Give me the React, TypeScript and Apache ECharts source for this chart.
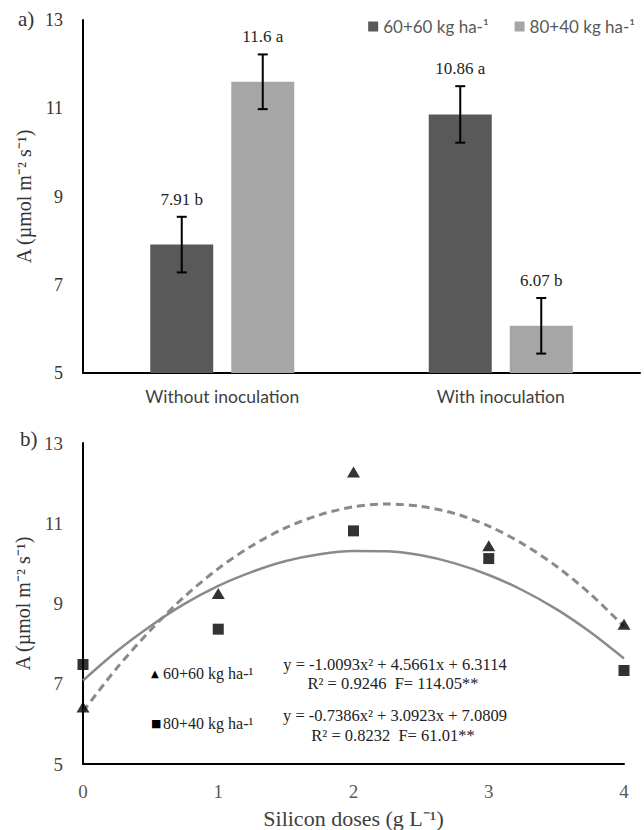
import React, { useEffect, useRef } from "react";
import * as echarts from "echarts";

const treatments = ["60+60 kg ha-¹", "80+40 kg ha-¹"];
const inoculation = ["Without inoculation", "With inoculation"];
const barDark = [7.91, 10.86];
const barLight = [11.6, 6.07];
const errDark = [0.63, 0.64];
const errLight = [0.62, 0.63];
const lettersDark = ["b", "a"];
const lettersLight = ["a", "b"];

const siDoses = [0, 1, 2, 3, 4];
const obs6060 = [6.42, 9.25, 12.28, 10.44, 8.48];
const obs8040 = [7.48, 8.36, 10.81, 10.12, 7.33];
const curveX = [0, 0.25, 0.5, 0.75, 1, 1.25, 1.5, 1.75, 2, 2.25, 2.5, 2.75, 3, 3.25, 3.5, 3.75, 4];
const fit6060 = [6.31, 7.39, 8.34, 9.17, 9.87, 10.44, 10.89, 11.21, 11.41, 11.48, 11.42, 11.24, 10.93, 10.49, 9.93, 9.24, 8.43];
const fit8040 = [7.08, 7.81, 8.44, 8.99, 9.44, 9.79, 10.06, 10.23, 10.31, 10.3, 10.2, 10.0, 9.71, 9.33, 8.86, 8.29, 7.63];
const eq6060 = ["y = -1.0093x² + 4.5661x + 6.3114", "R² = 0.9246  F= 114.05**"];
const eq8040 = ["y = -0.7386x² + 3.0923x + 7.0809", "R² = 0.8232  F= 61.01**"];

const yName = "A (µmol m⁻² s⁻¹)";
const xName = "Silicon doses (g L⁻¹)";

const SERIF = "'Liberation Serif', 'Times New Roman', serif";
const SANS = "Lato, 'Open Sans', sans-serif";

function errorSeries(vals: number[], errs: number[], letters: string[], offset: number) {
  return {
    type: "custom",
    xAxisIndex: 0,
    yAxisIndex: 0,
    z: 5,
    data: vals.map((v, i) => [i, v, errs[i], letters[i]]),
    renderItem: (params: any, api: any) => {
      const idx = api.value(0);
      const v = api.value(1);
      const e = api.value(2);
      const top = api.coord([idx, v + e]);
      const bot = api.coord([idx, v - e]);
      const x = top[0] + offset;
      const cap = 5;
      const st = { stroke: "#000", lineWidth: 2 };
      return {
        type: "group",
        children: [
          { type: "line", shape: { x1: x, y1: top[1], x2: x, y2: bot[1] }, style: st },
          { type: "line", shape: { x1: x - cap, y1: top[1], x2: x + cap, y2: top[1] }, style: st },
          { type: "line", shape: { x1: x - cap, y1: bot[1], x2: x + cap, y2: bot[1] }, style: st },
          {
            type: "text",
            x: x,
            y: top[1] - 9,
            style: {
              text: v.toString() + " " + letters[idx],
              fontFamily: SERIF,
              fontSize: 17,
              fill: "#222",
              align: "center",
              verticalAlign: "bottom",
            },
          },
        ],
      };
    },
  };
}

export default function App() {
  const ref = useRef<HTMLDivElement>(null);
  useEffect(() => {
    document.body.style.margin = "0";
    const chart = echarts.init(ref.current!, undefined, { renderer: "svg" });
    const axisLine = { show: true, lineStyle: { color: "#000", width: 2 } };
    const option: any = {
      animation: false,
      backgroundColor: "#fff",
      legend: {
        data: treatments,
        top: 13,
        right: 4,
        icon: "rect",
        itemWidth: 10,
        itemHeight: 10,
        itemGap: 26,
        textStyle: { fontFamily: SANS, fontSize: 17, color: "#595959" },
      },
      grid: [
        { left: 83, right: 4, top: 20, height: 353 },
        { left: 83, right: 20, top: 443, height: 322 },
      ],
      xAxis: [
        {
          type: "category",
          gridIndex: 0,
          data: inoculation,
          axisLine,
          axisTick: { show: false },
          axisLabel: { fontFamily: SANS, fontSize: 17.5, color: "#404040", margin: 14 },
        },
        {
          type: "value",
          gridIndex: 1,
          min: 0,
          max: 4,
          interval: 1,
          axisLine,
          axisTick: { show: false },
          splitLine: { show: false },
          axisLabel: { fontFamily: SERIF, fontSize: 19, color: "#595959", margin: 18 },
          name: xName,
          nameLocation: "middle",
          nameGap: 43,
          nameTextStyle: { fontFamily: SERIF, fontSize: 22, color: "#404040" },
        },
      ],
      yAxis: [0, 1].map((g) => ({
        type: "value",
        gridIndex: g,
        min: 5,
        max: 13,
        interval: 2,
        axisLine,
        axisTick: { show: false },
        splitLine: { show: false },
        axisLabel: {
          fontFamily: SERIF,
          fontSize: g === 0 ? 18 : 19,
          color: g === 0 ? "#333" : "#444",
          margin: 20,
        },
        name: yName,
        nameLocation: "middle",
        nameGap: 48,
        nameTextStyle: { fontFamily: SERIF, fontSize: 20, color: "#333" },
      })),
      series: [
        {
          name: treatments[0],
          type: "bar",
          xAxisIndex: 0,
          yAxisIndex: 0,
          data: barDark,
          barWidth: 63,
          barGap: "28.6%",
          itemStyle: { color: "#595959" },
        },
        {
          name: treatments[1],
          type: "bar",
          xAxisIndex: 0,
          yAxisIndex: 0,
          data: barLight,
          barWidth: 63,
          barGap: "28.6%",
          itemStyle: { color: "#a6a6a6" },
        },
        errorSeries(barDark, errDark, lettersDark, -40.5),
        errorSeries(barLight, errLight, lettersLight, 40.5),
        {
          name: "fit 60+60",
          type: "line",
          xAxisIndex: 1,
          yAxisIndex: 1,
          data: curveX.map((x, i) => [x, fit6060[i]]),
          smooth: 0.3,
          symbol: "none",
          lineStyle: { color: "#8a8a8a", width: 3, type: [8, 5] },
        },
        {
          name: "fit 80+40",
          type: "line",
          xAxisIndex: 1,
          yAxisIndex: 1,
          data: curveX.map((x, i) => [x, fit8040[i]]),
          smooth: 0.3,
          symbol: "none",
          lineStyle: { color: "#8a8a8a", width: 2.5 },
        },
        {
          name: "obs 60+60",
          type: "scatter",
          xAxisIndex: 1,
          yAxisIndex: 1,
          data: siDoses.map((x, i) => [x, obs6060[i]]),
          symbol: "triangle",
          symbolSize: [13, 11],
          itemStyle: { color: "#000" },
          z: 10,
        },
        {
          name: "obs 80+40",
          type: "scatter",
          xAxisIndex: 1,
          yAxisIndex: 1,
          data: siDoses.map((x, i) => [x, obs8040[i]]),
          symbol: "rect",
          symbolSize: 11,
          itemStyle: { color: "#000" },
          z: 10,
        },
      ],
      graphic: [
        { type: "text", left: 18, top: 8, style: { text: "a)", fontFamily: SERIF, fontSize: 21, fill: "#333" } },
        { type: "text", left: 20, top: 428, style: { text: "b)", fontFamily: SERIF, fontSize: 21, fill: "#333" } },
        { type: "text", x: 151, y: 673, style: { text: "▲", fontFamily: "'DejaVu Sans'", fontSize: 10, fill: "#000", verticalAlign: "middle" } },
        { type: "text", x: 163, y: 673, style: { text: treatments[0], fontFamily: SERIF, fontSize: 16, fill: "#222", verticalAlign: "middle" } },
        { type: "text", x: 151, y: 723, style: { text: "■", fontFamily: "'DejaVu Sans'", fontSize: 11, fill: "#000", verticalAlign: "middle" } },
        { type: "text", x: 163, y: 723, style: { text: treatments[1], fontFamily: SERIF, fontSize: 16, fill: "#222", verticalAlign: "middle" } },
        { type: "text", x: 395, y: 664, style: { text: eq6060[0], fontFamily: SERIF, fontSize: 16.5, fill: "#222", align: "center", verticalAlign: "middle" } },
        { type: "text", x: 393, y: 683, style: { text: eq6060[1], fontFamily: SERIF, fontSize: 16.5, fill: "#222", align: "center", verticalAlign: "middle" } },
        { type: "text", x: 395, y: 715, style: { text: eq8040[0], fontFamily: SERIF, fontSize: 16.5, fill: "#222", align: "center", verticalAlign: "middle" } },
        { type: "text", x: 393, y: 735, style: { text: eq8040[1], fontFamily: SERIF, fontSize: 16.5, fill: "#222", align: "center", verticalAlign: "middle" } },
      ],
    };
    chart.setOption(option);
    return () => chart.dispose();
  }, []);
  return <div ref={ref} style={{ width: 644, height: 830 }} />;
}
